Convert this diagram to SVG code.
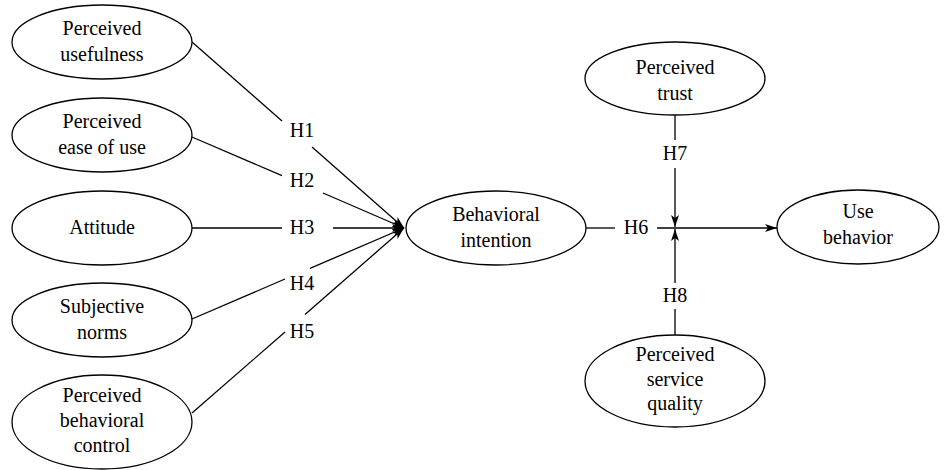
<svg xmlns="http://www.w3.org/2000/svg" width="947" height="470" viewBox="0 0 947 470" font-family="'Liberation Serif', 'Times New Roman', serif">
<style>
.n ellipse{fill:#fff;stroke:#000;stroke-width:1.3}
text{font-size:20px;fill:#000;text-anchor:middle}
.e line{stroke:#000;stroke-width:1.3}
.a{marker-end:url(#ah)}
</style>
<defs>
<marker id="ah" markerUnits="userSpaceOnUse" markerWidth="14" markerHeight="10" refX="12" refY="4" orient="auto">
<path d="M0,0 L12,4 L0,8 L3,4 z" fill="#000"/>
</marker>
</defs>
<g class="e" id="connectors">
<line x1="192" y1="42" x2="282" y2="121"/>
<line class="a" x1="312" y1="147" x2="404" y2="228"/>
<line x1="192" y1="137" x2="282" y2="175.6"/>
<line class="a" x1="323" y1="193" x2="404" y2="228"/>
<line x1="192" y1="228" x2="282" y2="228"/>
<line class="a" x1="333" y1="228" x2="404" y2="228"/>
<line x1="192" y1="319" x2="285" y2="279"/>
<line class="a" x1="310" y1="268.4" x2="404" y2="228"/>
<line x1="192" y1="413" x2="285" y2="332"/>
<line class="a" x1="305" y1="314.4" x2="404" y2="228"/>
<line x1="586" y1="228" x2="615" y2="228"/>
<line class="a" x1="657" y1="228" x2="777" y2="228"/>
<line x1="675" y1="115" x2="675" y2="140"/>
<line class="a" x1="675" y1="168" x2="675" y2="227"/>
<line x1="675" y1="335" x2="675" y2="309"/>
<line class="a" x1="675" y1="283" x2="675" y2="229"/>
<text x="302" y="137">H1</text>
<text x="302" y="187">H2</text>
<text x="302" y="234">H3</text>
<text x="302" y="290">H4</text>
<text x="302" y="338">H5</text>
<text x="636" y="234">H6</text>
<text x="675" y="160">H7</text>
<text x="675" y="302">H8</text>
</g>
<g class="n" id="pu"><ellipse cx="102" cy="42" rx="90" ry="37"/><text x="102" y="35">Perceived</text><text x="102" y="61">usefulness</text></g>
<g class="n" id="peou"><ellipse cx="102" cy="135" rx="90" ry="37"/><text x="102" y="128">Perceived</text><text x="102" y="154">ease of use</text></g>
<g class="n" id="att"><ellipse cx="102" cy="228" rx="90" ry="37"/><text x="102" y="234">Attitude</text></g>
<g class="n" id="sn"><ellipse cx="102" cy="320" rx="90" ry="37"/><text x="102" y="313">Subjective</text><text x="102" y="339">norms</text></g>
<g class="n" id="pbc"><ellipse cx="102" cy="422" rx="90" ry="47"/><text x="102" y="402">Perceived</text><text x="102" y="427">behavioral</text><text x="102" y="452">control</text></g>
<g class="n" id="bi"><ellipse cx="496" cy="228" rx="90" ry="37"/><text x="496" y="221">Behavioral</text><text x="496" y="247">intention</text></g>
<g class="n" id="pt"><ellipse cx="675" cy="78.5" rx="90" ry="36.5"/><text x="675" y="74">Perceived</text><text x="675" y="100">trust</text></g>
<g class="n" id="ub"><ellipse cx="858" cy="227" rx="81" ry="37"/><text x="858" y="218">Use</text><text x="858" y="244">behavior</text></g>
<g class="n" id="psq"><ellipse cx="675" cy="381" rx="90" ry="46"/><text x="675" y="361">Perceived</text><text x="675" y="386">service</text><text x="675" y="410">quality</text></g>
</svg>
